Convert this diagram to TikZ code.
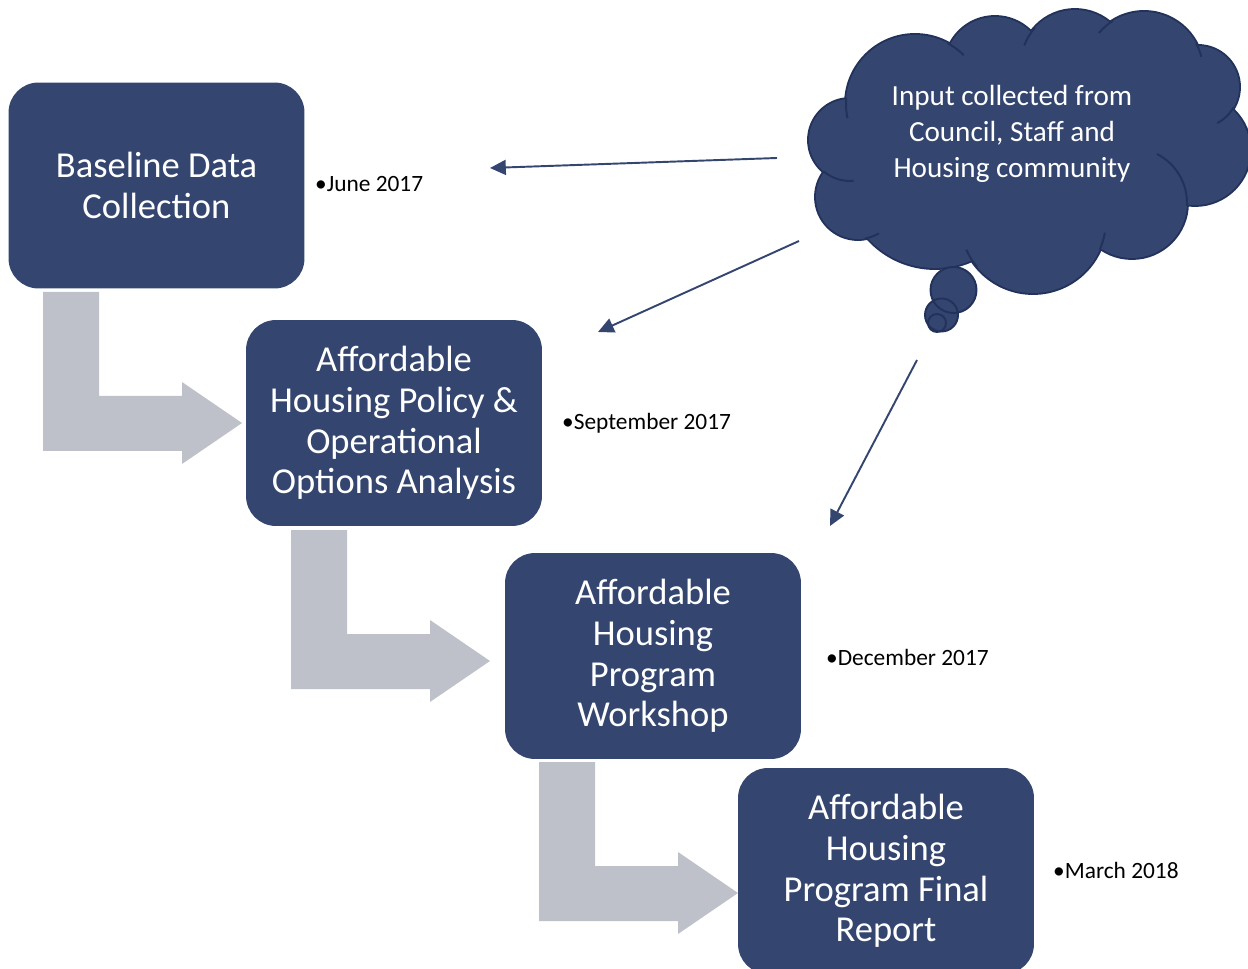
\documentclass[tikz,border=0pt]{standalone}
\usepackage{fontspec}
\setmainfont{Carlito}
\usetikzlibrary{arrows.meta}
\definecolor{navy}{HTML}{34466F}
\definecolor{rim}{HTML}{22325A}
\definecolor{bendgray}{HTML}{BFC1CA}
\begin{document}
\begin{tikzpicture}[x=0.02cm,y=-0.02cm,
    stage/.style={fill=navy, rounded corners=0.6cm, minimum width=5.92cm,
        minimum height=4.12cm, text=white, align=center,
        font=\fontsize{20.8}{23.2}\selectfont},
    date/.style={anchor=west, font=\fontsize{13.3}{16}\selectfont},
    feed/.style={draw=navy, line width=1.1pt,
        -{Triangle[length=9pt,width=8.5pt]}},
    fold/.style={draw=rim, line width=1.1pt}]
    % page frame
    \useasboundingbox (0,0) rectangle (1248,969);
    \clip (0,0) rectangle (1248,969);
    % bent arrows between stages
    \foreach \p in {(43,292),(291,530),(539,762)}
        \fill [bendgray, shift={\p}] (0,0) -- (56,0) -- (56,104) -- (139,104)
            -- (139,90) -- (199,131) -- (139,172) -- (139,159) -- (0,159) -- cycle;
    % stages
    \node [stage] (base) at (156.5,185.5) {Baseline Data\\Collection};
    \node [stage] (policy) at (394,423) {Affordable\\Housing Policy \&\\Operational\\Options Analysis};
    \node [stage] (workshop) at (653,656) {Affordable\\Housing\\Program\\Workshop};
    \node [stage] (report) at (886,871) {Affordable\\Housing\\Program Final\\Report};
    % dates
    \node [date] (june) at (309,184) {•June 2017};
    \node [date] (sept) at (556,423) {•September 2017};
    \node [date] (dec) at (820,657) {•December 2017};
    \node [date] (march) at (1047,870) {•March 2018};
    % thought cloud: puffs stroked, then filled over
    \def\puffs{(850,140)/41, (915,104)/69, (995,67)/50, (1075,64)/54,
        (1144,71)/59, (1198,87)/41, (1195,150)/55, (1132,203)/55,
        (1033,220)/73, (935,178)/90, (858,197)/42}
    \foreach \c/\r in \puffs
        \draw [rim, line width=2.2pt] \c circle [radius=\r];
    \foreach \c/\r in \puffs
        \fill [navy] \c circle [radius=\r];
    \fill [navy] (850,140) -- (915,104) -- (995,67) -- (1075,64) -- (1144,71)
        -- (1198,87) -- (1195,150) -- (1132,203) -- (1033,220) -- (935,178)
        -- (858,197) -- cycle;
    % folds of the puffs
    \foreach \c/\r/\a/\b in {(850,140)/41/130/85, (915,104)/69/185/168,
        (915,104)/69/-62/-45, (1075,64)/54/-138/-160, (1144,71)/59/-122/-140,
        (1144,71)/59/-28/-14, (1198,87)/41/30/62, (1132,203)/55/3/-63,
        (1033,220)/73/24/10, (1033,220)/73/140/156, (858,197)/42/80/60}
        \draw [fold] \c ++(\a:\r) arc [start angle=\a, end angle=\b, radius=\r];
    % thought bubbles
    \foreach \c/\r in {(953.5,290)/23, (941.5,315)/16.5, (937,323)/9}
        \fill [navy] \c circle [radius=\r];
    \foreach \c/\r in {(953.5,290)/23, (941.5,315)/16.5, (937,323)/9}
        \draw [fold] \c circle [radius=\r];
    \node [text=white, align=center, font=\fontsize{16.6}{20.4}\selectfont] (input) at (1012,134)
        {Input collected from\\Council, Staff and\\Housing community};
    % feedback arrows
    \coordinate (src1) at (777,158);
    \coordinate (dst1) at (490,168);
    \coordinate (src2) at (799,241);
    \coordinate (dst2) at (598,332);
    \coordinate (src3) at (917,360);
    \coordinate (dst3) at (830,526);
    \draw [feed] (src1) -- (dst1);
    \draw [feed] (src2) -- (dst2);
    \draw [feed] (src3) -- (dst3);
\end{tikzpicture}
\end{document}
